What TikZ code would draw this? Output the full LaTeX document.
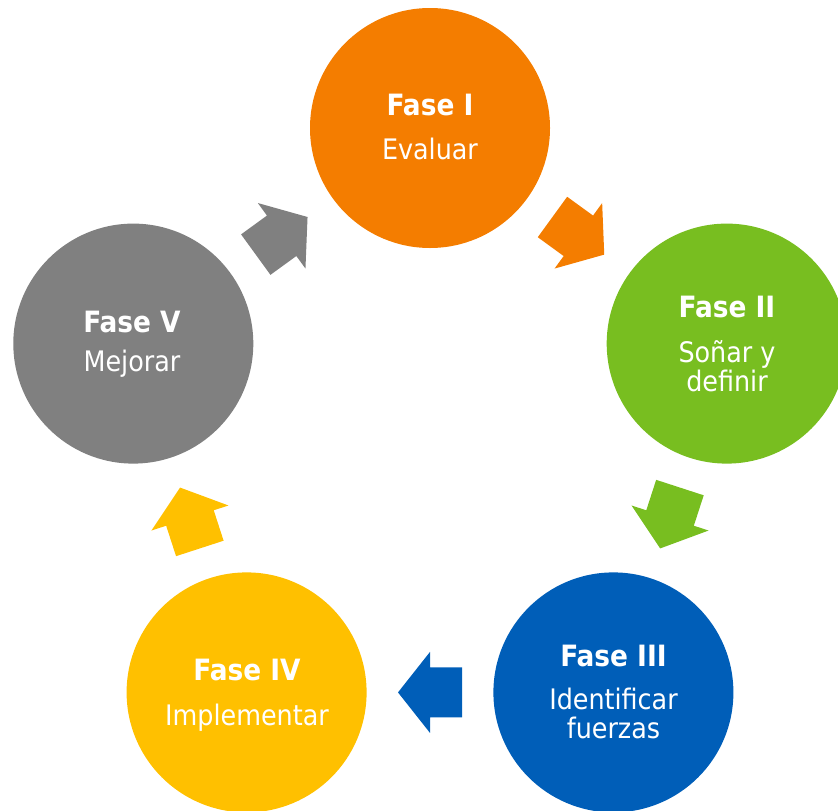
\documentclass[tikz,border=0pt]{standalone}
\usepackage{fontspec}
\setmainfont{DejaVu Sans Condensed}
\usetikzlibrary{calc}
\definecolor{cI}{HTML}{F47D00}
\definecolor{cII}{HTML}{78BE20}
\definecolor{cIII}{HTML}{005EB8}
\definecolor{cIV}{HTML}{FFC000}
\definecolor{cV}{HTML}{808080}
\newcommand\phasearrow[4]{%
  \fill[#4, shift={($(#1)!0.5!(#2)$)}, rotate=#3]
    (-32,-25) -- (0,-25) -- (0,-40.5) -- (32,0) -- (0,40.5) -- (0,25) -- (-32,25) -- cycle;}
\begin{document}
\begin{tikzpicture}[x=0.75pt,y=-0.75pt,
  phase/.style={circle, minimum size=180pt, inner sep=0pt, draw=none},
  ttl/.style={anchor=base, font=\fontsize{22}{24}\selectfont\bfseries, text=white, inner sep=0pt},
  dsc/.style={anchor=base, font=\fontsize{21.2}{23}\selectfont, text=white, inner sep=0pt}]
\useasboundingbox (0,0) rectangle (838,810);
\node[phase, fill=cI]   (I)   at (430,128)   {};
\node[phase, fill=cII]  (II)  at (726.7,343.6) {};
\node[phase, fill=cIII] (III) at (613.4,692.4) {};
\node[phase, fill=cIV]  (IV)  at (246.6,692.4) {};
\node[phase, fill=cV]   (V)   at (133.3,343.6) {};

\phasearrow{I}{II}{-36}{cI}
\phasearrow{II}{III}{-108}{cII}
\phasearrow{III}{IV}{180}{cIII}
\phasearrow{IV}{V}{108}{cIV}
\phasearrow{V}{I}{36}{cV}

\node[ttl] (tI) at (430,115) {Fase I};
\node[dsc] (dI) at (430,159) {Evaluar};
\node[ttl] (tII) at (727,317) {Fase II};
\node[dsc] (dIIa) at (727,362) {Soñar y};
\node[dsc] (dIIb) at (727,391) {definir};
\node[ttl] (tIII) at (613.5,666) {Fase III};
\node[dsc] (dIIIa) at (613.5,709) {Identificar};
\node[dsc] (dIIIb) at (613.5,738) {fuerzas};
\node[ttl] (tIV) at (247,680) {Fase IV};
\node[dsc] (dIV) at (247,725) {Implementar};
\node[ttl] (tV) at (132,332) {Fase V};
\node[dsc] (dV) at (132,371) {Mejorar};
\end{tikzpicture}
\end{document}
